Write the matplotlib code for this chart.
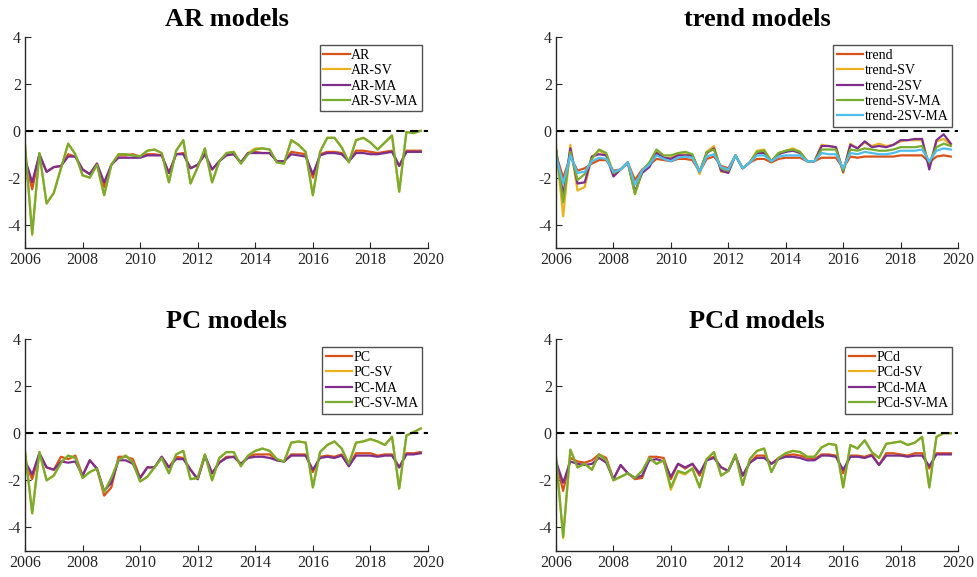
import numpy as np
import matplotlib
matplotlib.use('Agg')
import matplotlib.pyplot as plt

plt.rcParams['font.family'] = ['Liberation Serif', 'DejaVu Serif']
plt.rcParams['axes.unicode_minus'] = False

# quarterly dates 2006Q1 .. 2019Q4
dates = np.arange(2006, 2020, 0.25)

# ---- AR models ----
ar = [-1.2, -2.5, -1.0, -1.75, -1.55, -1.5, -1.0, -1.1, -1.65, -1.85, -1.4, -2.4, -1.45, -1.05,
      -1.05, -1.0, -1.1, -1.0, -1.0, -1.05, -1.8, -1.0, -0.95, -1.6, -1.45, -1.0, -1.65, -1.3,
      -1.0, -1.0, -1.35, -0.95, -0.9, -0.95, -0.95, -1.3, -1.3, -0.9, -0.95, -1.0, -2.0, -1.0,
      -0.9, -0.9, -0.95, -1.3, -0.85, -0.85, -0.9, -0.95, -0.9, -0.85, -1.5, -0.85, -0.85, -0.85]
ar_sv = [-0.6, -4.45, -0.95, -3.1, -2.65, -1.6, -0.55, -1.0, -1.9, -2.0, -1.45, -2.75, -1.45, -1.0,
         -1.0, -1.05, -1.1, -0.85, -0.8, -0.95, -2.2, -0.85, -0.4, -2.25, -1.55, -0.75, -2.2, -1.3,
         -0.95, -0.9, -1.4, -0.95, -0.75, -0.75, -0.8, -1.35, -1.4, -0.4, -0.6, -0.9, -2.75, -0.9,
         -0.3, -0.3, -0.7, -1.35, -0.4, -0.3, -0.5, -0.8, -0.5, -0.2, -2.6, -0.05, -0.1, 0.0]
ar_ma = [-1.2, -2.2, -1.0, -1.75, -1.55, -1.5, -1.1, -1.1, -1.65, -1.85, -1.4, -2.2, -1.45, -1.15,
         -1.15, -1.15, -1.15, -1.05, -1.05, -1.05, -1.8, -1.0, -1.0, -1.6, -1.45, -1.0, -1.65, -1.3,
         -1.05, -1.0, -1.35, -0.95, -0.95, -0.95, -0.95, -1.3, -1.3, -1.0, -1.05, -1.1, -1.85, -1.05,
         -0.95, -0.95, -1.0, -1.3, -0.95, -0.95, -1.0, -1.0, -0.95, -0.9, -1.5, -0.9, -0.9, -0.9]
ar_sv_ma = [-0.6, -4.4, -0.95, -3.1, -2.65, -1.6, -0.55, -1.0, -1.9, -2.0, -1.45, -2.75, -1.45, -1.0,
            -1.0, -1.05, -1.1, -0.85, -0.8, -0.95, -2.2, -0.85, -0.4, -2.25, -1.55, -0.75, -2.2, -1.3,
            -0.95, -0.9, -1.4, -1.0, -0.8, -0.75, -0.8, -1.35, -1.4, -0.4, -0.6, -0.9, -2.75, -0.9,
            -0.3, -0.3, -0.7, -1.35, -0.4, -0.3, -0.5, -0.8, -0.5, -0.2, -2.6, -0.05, -0.1, 0.0]

# ---- trend models ----
trend = [-1.0, -2.0, -1.1, -1.7, -1.6, -1.4, -1.25, -1.25, -1.7, -1.65, -1.35, -2.1, -1.65, -1.45,
         -1.2, -1.25, -1.3, -1.2, -1.2, -1.25, -1.75, -1.2, -1.1, -1.5, -1.6, -1.05, -1.6, -1.35,
         -1.2, -1.2, -1.35, -1.2, -1.15, -1.15, -1.15, -1.3, -1.3, -1.15, -1.15, -1.15, -1.6, -1.1,
         -1.15, -1.1, -1.1, -1.1, -1.1, -1.1, -1.05, -1.05, -1.05, -1.05, -1.35, -1.1, -1.05, -1.1]
trend_sv = [-0.65, -3.65, -0.6, -2.55, -2.4, -1.1, -0.85, -1.0, -1.9, -1.65, -1.35, -2.7, -1.7, -1.5,
            -0.9, -1.15, -1.15, -1.0, -1.0, -1.05, -1.85, -0.9, -0.65, -1.75, -1.75, -1.05, -1.6, -1.35,
            -0.85, -0.8, -1.3, -0.95, -0.85, -0.75, -0.9, -1.3, -1.3, -0.6, -0.65, -0.7, -1.8, -0.55,
            -0.75, -0.5, -0.65, -0.55, -0.65, -0.6, -0.45, -0.4, -0.4, -0.4, -1.5, -0.45, -0.35, -0.6]
trend_2sv = [-0.8, -2.75, -0.75, -2.25, -2.2, -1.1, -1.0, -1.05, -1.95, -1.65, -1.35, -2.6, -1.8, -1.55,
             -0.95, -1.15, -1.2, -1.05, -1.05, -1.05, -1.75, -0.95, -0.75, -1.7, -1.8, -1.05, -1.6, -1.35,
             -0.95, -0.95, -1.3, -1.0, -0.9, -0.85, -0.95, -1.3, -1.3, -0.65, -0.65, -0.7, -1.75, -0.6,
             -0.75, -0.45, -0.7, -0.65, -0.7, -0.6, -0.4, -0.4, -0.35, -0.35, -1.65, -0.4, -0.15, -0.55]
trend_sv_ma = [-0.8, -3.05, -0.9, -2.1, -1.85, -1.2, -0.8, -0.95, -1.8, -1.65, -1.35, -2.7, -1.7, -1.35,
               -0.8, -1.05, -1.05, -0.95, -0.9, -1.0, -1.75, -0.9, -0.8, -1.6, -1.7, -1.05, -1.6, -1.35,
               -0.9, -0.85, -1.3, -0.95, -0.85, -0.8, -0.9, -1.3, -1.3, -0.8, -0.8, -0.8, -1.7, -0.8,
               -0.85, -0.75, -0.8, -0.85, -0.85, -0.8, -0.7, -0.7, -0.7, -0.65, -1.35, -0.7, -0.55, -0.65]
trend_2sv_ma = [-1.1, -2.25, -1.05, -1.8, -1.75, -1.3, -1.15, -1.2, -1.75, -1.65, -1.35, -2.3, -1.7, -1.45,
                -1.05, -1.2, -1.3, -1.15, -1.1, -1.15, -1.75, -1.1, -1.0, -1.55, -1.65, -1.05, -1.6, -1.35,
                -1.05, -1.05, -1.3, -1.1, -1.05, -1.05, -1.05, -1.3, -1.3, -0.95, -1.0, -1.0, -1.6, -0.95,
                -1.0, -0.9, -0.95, -1.0, -1.0, -0.95, -0.85, -0.85, -0.85, -0.8, -1.3, -0.85, -0.75, -0.8]

# ---- PC models ----
pc = [-1.2, -1.95, -0.85, -1.45, -1.55, -1.0, -1.1, -0.95, -1.8, -1.15, -1.5, -2.65, -2.3, -1.0,
      -1.0, -1.1, -1.9, -1.45, -1.45, -1.0, -1.45, -1.0, -1.05, -1.55, -1.95, -0.95, -1.7, -1.25,
      -1.0, -1.0, -1.3, -1.0, -0.9, -0.9, -0.9, -1.15, -1.2, -0.9, -0.9, -0.9, -1.65, -1.0,
      -0.95, -1.0, -0.9, -1.4, -0.85, -0.85, -0.85, -0.95, -0.9, -0.9, -1.45, -0.85, -0.85, -0.8]
pc_sv = [-0.75, -3.4, -0.8, -2.0, -1.8, -1.25, -0.95, -1.05, -1.9, -1.65, -1.5, -2.5, -1.9, -1.15,
         -0.95, -1.25, -2.05, -1.85, -1.45, -1.05, -1.7, -0.9, -0.75, -1.95, -1.9, -0.9, -2.0, -1.05,
         -0.8, -0.8, -1.4, -0.95, -0.75, -0.65, -0.75, -1.1, -1.2, -0.4, -0.35, -0.4, -2.3, -0.8,
         -0.5, -0.35, -0.65, -1.3, -0.4, -0.35, -0.25, -0.35, -0.5, -0.15, -2.35, -0.1, 0.05, 0.2]
pc_ma = [-1.2, -1.75, -0.85, -1.45, -1.55, -1.2, -1.25, -1.2, -1.8, -1.15, -1.5, -2.45, -2.1, -1.15,
         -1.15, -1.3, -1.9, -1.45, -1.45, -1.0, -1.45, -1.1, -1.1, -1.55, -1.95, -0.95, -1.7, -1.25,
         -1.05, -1.0, -1.3, -1.05, -1.0, -1.0, -1.05, -1.15, -1.2, -0.95, -0.95, -0.95, -1.55, -1.05,
         -1.0, -1.05, -0.95, -1.4, -0.95, -0.95, -0.95, -1.0, -0.95, -0.95, -1.45, -0.9, -0.9, -0.85]
pc_sv_ma = [-0.75, -3.4, -0.8, -2.0, -1.8, -1.25, -0.95, -1.05, -1.9, -1.65, -1.5, -2.5, -1.9, -1.15,
            -0.95, -1.25, -2.05, -1.85, -1.45, -1.05, -1.7, -0.9, -0.75, -1.95, -1.9, -0.9, -2.0, -1.05,
            -0.8, -0.8, -1.4, -0.95, -0.75, -0.65, -0.75, -1.1, -1.2, -0.4, -0.35, -0.4, -2.3, -0.8,
            -0.5, -0.35, -0.65, -1.3, -0.4, -0.35, -0.25, -0.35, -0.5, -0.15, -2.35, -0.1, 0.05, 0.2]

# ---- PCd models ----
pcd = [-1.2, -2.45, -1.05, -1.2, -1.25, -1.15, -0.9, -1.05, -1.95, -1.35, -1.7, -1.95, -1.9, -1.0,
       -1.0, -1.05, -1.95, -1.3, -1.5, -1.3, -1.8, -1.1, -1.0, -1.45, -1.6, -0.95, -1.8, -1.25,
       -0.95, -0.95, -1.3, -1.05, -0.95, -0.9, -0.95, -1.05, -1.1, -0.9, -0.9, -0.95, -1.7, -0.95,
       -0.95, -1.0, -0.9, -1.35, -0.85, -0.85, -0.9, -0.95, -0.85, -0.85, -1.5, -0.85, -0.85, -0.85]
pcd_sv = [-1.0, -4.45, -0.7, -1.45, -1.3, -1.55, -0.9, -1.15, -2.0, -1.85, -1.7, -1.9, -1.6, -1.05,
          -1.3, -1.15, -2.4, -1.65, -1.75, -1.5, -2.3, -1.1, -0.8, -1.8, -1.6, -0.9, -2.2, -1.1,
          -0.75, -0.65, -1.65, -1.05, -0.85, -0.75, -0.8, -1.0, -1.0, -0.6, -0.45, -0.5, -2.3, -0.5,
          -0.65, -0.3, -0.8, -1.05, -0.45, -0.4, -0.35, -0.5, -0.4, -0.15, -2.3, -0.15, 0.0, 0.0]
pcd_ma = [-1.2, -2.1, -1.2, -1.3, -1.35, -1.3, -1.05, -1.25, -1.95, -1.35, -1.7, -1.9, -1.8, -1.15,
          -1.1, -1.2, -1.85, -1.3, -1.45, -1.3, -1.7, -1.15, -1.05, -1.45, -1.6, -0.95, -1.8, -1.25,
          -1.05, -1.05, -1.3, -1.1, -1.0, -1.0, -1.05, -1.15, -1.15, -0.95, -0.95, -1.0, -1.55, -1.0,
          -1.0, -1.05, -0.95, -1.35, -0.95, -0.95, -0.95, -1.0, -0.95, -0.95, -1.4, -0.9, -0.9, -0.9]
pcd_sv_ma = [-1.0, -4.4, -0.7, -1.45, -1.3, -1.55, -0.9, -1.15, -2.0, -1.85, -1.7, -1.9, -1.6, -1.05,
             -1.3, -1.15, -2.3, -1.6, -1.7, -1.5, -2.3, -1.1, -0.8, -1.8, -1.6, -0.9, -2.2, -1.1,
             -0.75, -0.65, -1.65, -1.05, -0.85, -0.75, -0.8, -1.0, -1.0, -0.6, -0.45, -0.5, -2.3, -0.5,
             -0.65, -0.3, -0.8, -1.05, -0.45, -0.4, -0.35, -0.5, -0.4, -0.15, -2.3, -0.15, 0.0, 0.0]

# matlab default line colours
colors = ['#D95319', '#EDB120', '#7E2F8E', '#77AC30', '#4DBEEE']

panels = [
    ('AR models', [ar, ar_sv, ar_ma, ar_sv_ma], ['AR', 'AR-SV', 'AR-MA', 'AR-SV-MA']),
    ('trend models', [trend, trend_sv, trend_2sv, trend_sv_ma, trend_2sv_ma],
     ['trend', 'trend-SV', 'trend-2SV', 'trend-SV-MA', 'trend-2SV-MA']),
    ('PC models', [pc, pc_sv, pc_ma, pc_sv_ma], ['PC', 'PC-SV', 'PC-MA', 'PC-SV-MA']),
    ('PCd models', [pcd, pcd_sv, pcd_ma, pcd_sv_ma], ['PCd', 'PCd-SV', 'PCd-MA', 'PCd-SV-MA']),
]

W, H = 978, 577
fig = plt.figure(figsize=(W / 100, H / 100), dpi=100)

# axes boxes in pixels: left, top, right, bottom
boxes = [(25, 37, 428, 248), (556, 37, 958, 248),
         (25, 339, 428, 551), (556, 339, 958, 551)]

for (title, series, names), (l, t, r, b) in zip(panels, boxes):
    ax = fig.add_axes([l / W, (H - b) / H, (r - l) / W, (b - t) / H])
    for s, name, c in zip(series, names, colors):
        ax.plot(dates, s, color=c, lw=1.6, label=name)
    ax.axhline(0, color='black', lw=1.5, ls=(0, (4, 2.6)))
    ax.set_xlim(2006, 2020)
    ax.set_ylim(-5, 4)
    ax.set_xticks(range(2006, 2021, 2))
    ax.set_yticks([-4, -2, 0, 2, 4])
    for sp in ['top', 'right']:
        ax.spines[sp].set_visible(False)
    for sp in ['left', 'bottom']:
        ax.spines[sp].set_color('#262626')
        ax.spines[sp].set_linewidth(1.0)
    ax.tick_params(direction='in', length=4, width=0.8, color='#262626',
                   labelcolor='#262626', labelsize=11.5, pad=3)
    ax.set_title(title, fontsize=19, fontweight='bold', pad=8)
    leg = ax.legend(loc='upper right', bbox_to_anchor=(0.985, 0.96), fontsize=10,
                    frameon=True, fancybox=False, edgecolor='#262626', handlelength=1.9,
                    handletextpad=0.1, borderpad=0.25, labelspacing=0.17, borderaxespad=0)
    leg.get_frame().set_linewidth(1.0)

fig.savefig('out.png', dpi=100)
